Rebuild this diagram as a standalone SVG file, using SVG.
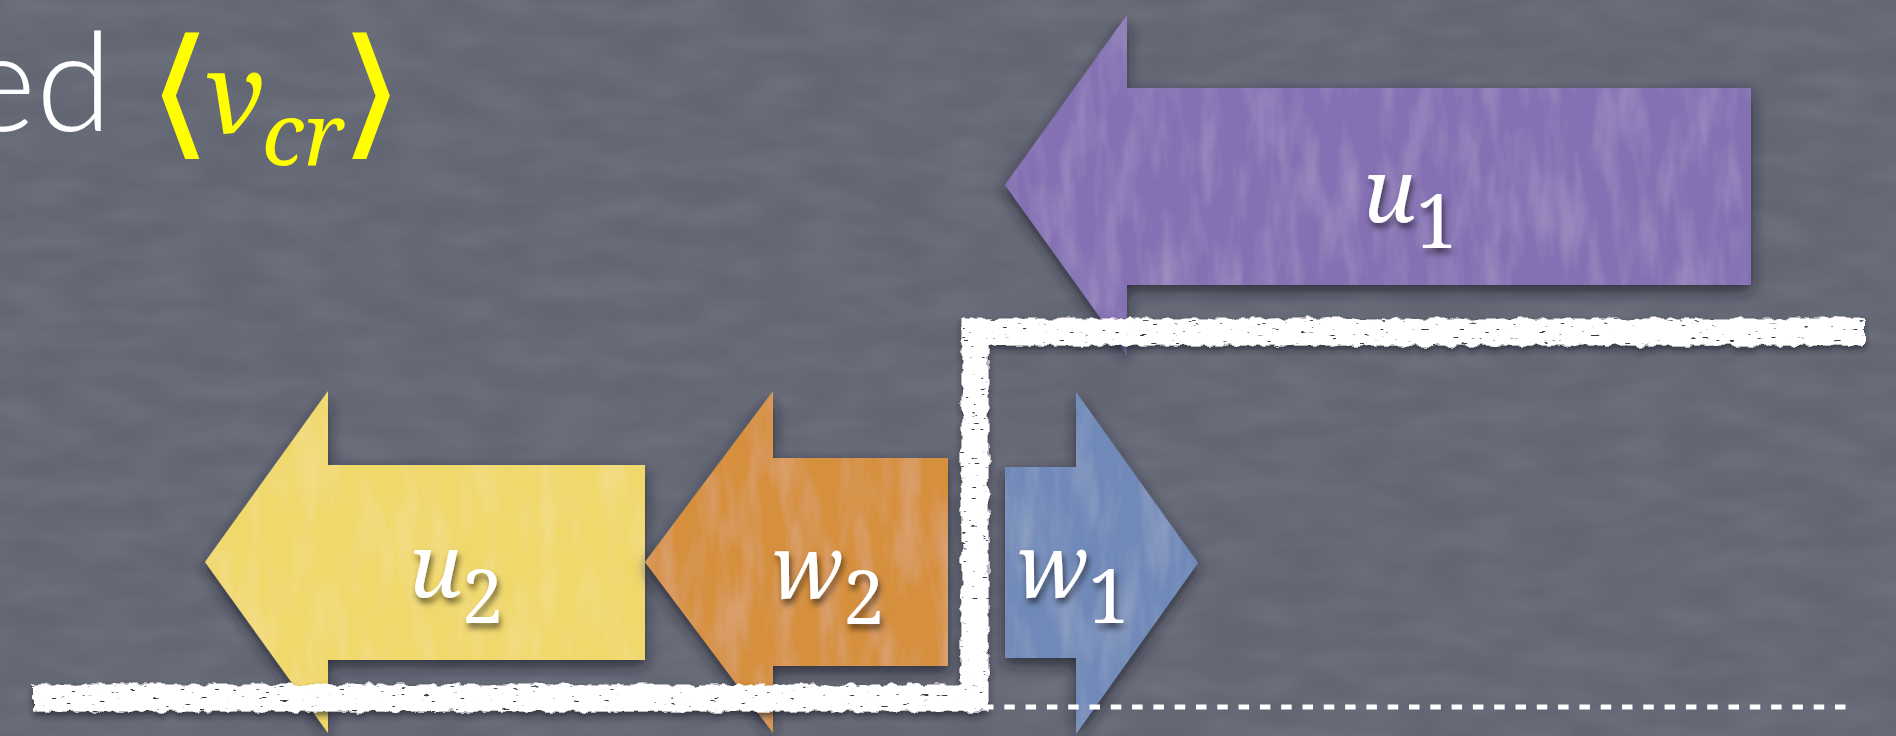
<svg xmlns="http://www.w3.org/2000/svg" width="1896" height="736" viewBox="0 0 1896 736">
<defs>
<style>
.bg{fill:#636673}
.lbl{font-family:"Noto Serif","DejaVu Serif",serif;font-style:italic;font-size:88px;fill:#ffffff;filter:url(#txtShadow)}
.sub{font-style:normal;font-size:74px}
.math{font-family:"Noto Serif","DejaVu Serif",serif;font-style:italic;fill:#ffff00}
.ang{font-family:"DejaVu Sans",sans-serif;font-size:142px;fill:#ffff00}
.title{font-family:Lato,sans-serif;font-weight:300;font-size:138px;fill:#ffffff}
.chalk{fill:none;stroke:#ffffff;stroke-width:27;stroke-linejoin:miter}
.dash{fill:none;stroke:#ffffff;stroke-width:5;stroke-dasharray:10.5 10.8}
.arrow{filter:url(#arrowFx)}
</style>
<filter id="bgNoise" filterUnits="userSpaceOnUse" x="0" y="0" width="1896" height="736">
<feTurbulence type="fractalNoise" baseFrequency="0.015 0.04" numOctaves="2" seed="5"/>
<feColorMatrix type="matrix" values="0 0 0 0 0.55 0 0 0 0 0.57 0 0 0 0 0.65 0.2 0 0 0 -0.07"/>
</filter>
<filter id="arrowFx" x="-10%" y="-10%" width="125%" height="130%">
<feTurbulence type="fractalNoise" baseFrequency="0.05 0.012" numOctaves="3" seed="7" result="noise"/>
<feColorMatrix in="noise" type="matrix" values="0 0 0 0 1 0 0 0 0 1 0 0 0 0 1 0.25 0 0 0 -0.1" result="light"/>
<feComposite in="light" in2="SourceAlpha" operator="in" result="lightIn"/>
<feGaussianBlur in="SourceAlpha" stdDeviation="7" result="blur"/>
<feOffset in="blur" dx="0" dy="6" result="off"/>
<feFlood flood-color="#1c1e2a" flood-opacity="0.75"/>
<feComposite in2="off" operator="in" result="shadow"/>
<feMerge><feMergeNode in="shadow"/><feMergeNode in="SourceGraphic"/><feMergeNode in="lightIn"/></feMerge>
</filter>
<filter id="txtShadow" x="-20%" y="-20%" width="150%" height="160%">
<feDropShadow dx="2" dy="5" stdDeviation="3" flood-color="#000000" flood-opacity="0.55"/>
</filter>
<filter id="chalkFx" filterUnits="userSpaceOnUse" x="0" y="300" width="1896" height="436">
<feTurbulence type="fractalNoise" baseFrequency="0.09" numOctaves="2" seed="2" result="t"/>
<feDisplacementMap in="SourceGraphic" in2="t" scale="8" xChannelSelector="R" yChannelSelector="G" result="rough"/>
<feTurbulence type="fractalNoise" baseFrequency="0.1 0.35" numOctaves="2" seed="11" result="t2"/>
<feColorMatrix in="t2" type="matrix" values="0 0 0 0 1 0 0 0 0 1 0 0 0 0 1 -20 0 0 0 15.6" result="mask"/>
<feComposite in="rough" in2="mask" operator="in" result="chalked"/>
<feGaussianBlur in="chalked" stdDeviation="3" result="cb"/>
<feOffset in="cb" dx="0" dy="4" result="co"/>
<feFlood flood-color="#1c1e2a" flood-opacity="0.65"/>
<feComposite in2="co" operator="in" result="cs"/>
<feMerge><feMergeNode in="cs"/><feMergeNode in="chalked"/></feMerge>
</filter>
</defs>
<rect class="bg" x="0" y="0" width="1896" height="736"/>
<rect x="0" y="0" width="1896" height="736" filter="url(#bgNoise)"/>

<g id="title">
<text class="title" x="112" y="131" text-anchor="end">ed</text>
<text class="ang" x="-12" y="0" transform="translate(161,140) scale(1.2,1)">⟨</text>
<text class="math" x="205" y="133" font-size="112">v</text>
<text class="math" x="262" y="165" font-size="86">cr</text>
<text class="ang" x="-12" y="0" transform="translate(353,140) scale(1.2,1)">⟩</text>
<text class="math" x="1521" y="-16" font-size="112">)</text>
</g>

<g id="node-u1">
<polygon class="arrow" points="1005,185 1127,15 1127,88 1751,88 1751,285 1127,285 1127,355" fill="#8470b3"/>
<text class="lbl" x="1363" y="222">u<tspan class="sub" dy="26">1</tspan></text>
</g>
<g id="node-u2">
<polygon class="arrow" points="205,562 328,391 328,465 645,465 645,660 328,660 328,733" fill="#f1d86b"/>
<text class="lbl" x="409" y="597">u<tspan class="sub" dy="26">2</tspan></text>
</g>
<g id="node-w2">
<polygon class="arrow" points="645,562 773,391 773,458 948,458 948,666 773,666 773,733" fill="#d68f3c"/>
<text class="lbl" x="771" y="598">w<tspan class="sub" dy="26">2</tspan></text>
</g>
<g id="node-w1">
<polygon class="arrow" points="1005,467 1076,467 1076,392 1198,563 1076,734 1076,658 1005,658" fill="#7089b8"/>
<text class="lbl" x="1016" y="597">w<tspan class="sub" dy="26">1</tspan></text>
</g>

<g id="connectors">
<path class="chalk" filter="url(#chalkFx)" d="M33,698 L975,698 L975,332 L1865,332"/>
<path class="dash" d="M983,707 H1846"/>
</g>
</svg>
